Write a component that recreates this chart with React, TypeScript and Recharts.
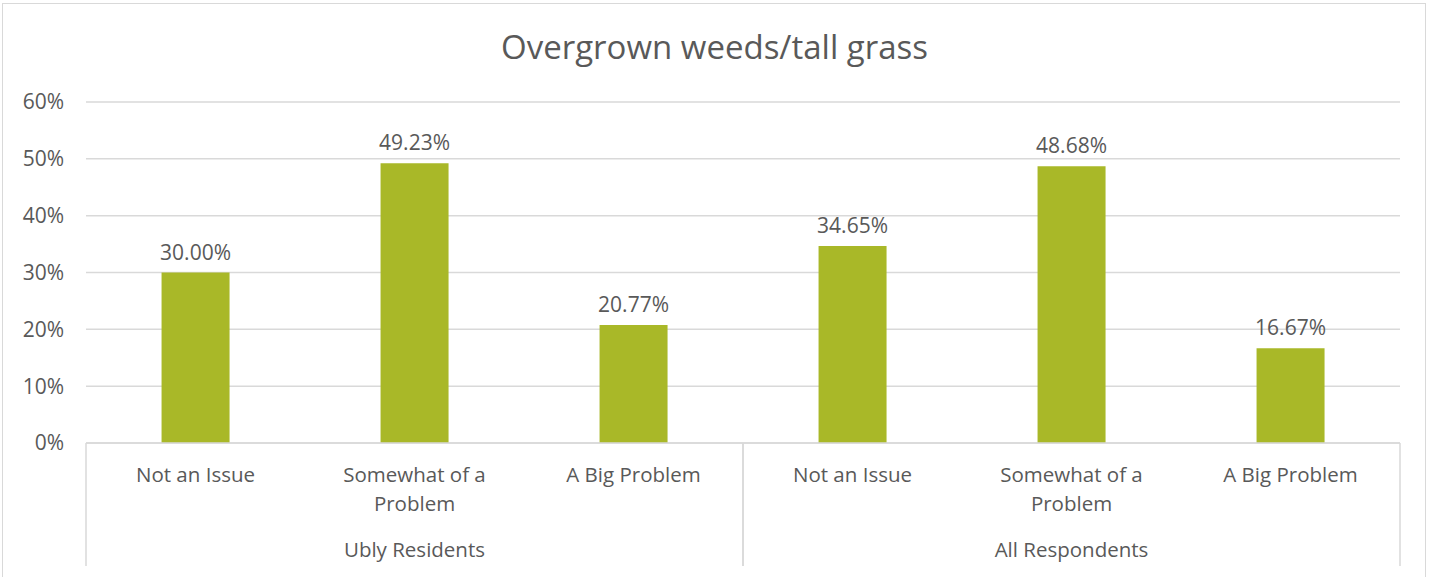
import React from 'react';
import { BarChart, Bar, XAxis, YAxis, CartesianGrid, LabelList } from 'recharts';

const categories = ['Not an Issue', 'Somewhat of a Problem', 'A Big Problem'];
const groups = ['Ubly Residents', 'All Respondents'];
const ublyValues = [30.0, 49.23, 20.77];
const allValues = [34.65, 48.68, 16.67];
const yTicks = [0, 10, 20, 30, 40, 50, 60];

const data = [
  ...categories.map((c, i) => ({ key: `u${i}`, label: c, group: groups[0], pos: i, value: ublyValues[i] })),
  ...categories.map((c, i) => ({ key: `a${i}`, label: c, group: groups[1], pos: i, value: allValues[i] })),
];

const TEXT = '#595959';
const GRID = '#d9d9d9';
const BAR = '#a9b828';
const FONT = '"Open Sans", sans-serif';

function wrap(s: string, max: number) {
  const words = s.split(' ');
  const lines: string[] = [];
  let cur = '';
  for (const w of words) {
    const next = cur ? cur + ' ' + w : w;
    if (next.length > max && cur) {
      lines.push(cur);
      cur = w;
    } else cur = next;
  }
  if (cur) lines.push(cur);
  return lines;
}

const CategoryTick = (props: any) => {
  const { x, y, payload, index } = props;
  const d = data[index];
  const half = payload.offset || 109.5;
  const lines = wrap(d.label, 14);
  const top = y - 8;
  return (
    <g>
      {lines.map((l, i) => (
        <text key={i} x={x} y={y + 31 + i * 29} textAnchor="middle" fill={TEXT} fontSize={20.5} fontFamily={FONT}>
          {l}
        </text>
      ))}
      {d.pos === 0 && <line x1={x - half} x2={x - half} y1={top} y2={top + 123} stroke={GRID} strokeWidth={1.5} />}
      {d.pos === categories.length - 1 && (
        <line x1={x + half} x2={x + half} y1={top} y2={top + 123} stroke={GRID} strokeWidth={1.5} />
      )}
      {d.pos === 1 && (
        <text x={x} y={y + 106} textAnchor="middle" fill={TEXT} fontSize={20.5} fontFamily={FONT}>
          {d.group}
        </text>
      )}
    </g>
  );
};

export default function App() {
  return (
    <div style={{ position: 'absolute', left: 0, top: 0, width: 1429, height: 577, background: '#fff', overflow: 'hidden' }}>
      <div
        style={{
          position: 'absolute',
          left: 2,
          top: 3,
          width: 1422,
          height: 600,
          border: `1.5px solid ${GRID}`,
        }}
      />
      <div
        style={{
          position: 'absolute',
          left: 0,
          top: 24,
          width: 1429,
          textAlign: 'center',
          fontFamily: FONT,
          fontSize: 33,
          color: TEXT,
        }}
      >
        Overgrown weeds/tall grass
      </div>
      <BarChart
        width={1429}
        height={577}
        data={data}
        margin={{ top: 102, right: 29, left: 0, bottom: 0 }}
        barCategoryGap="34.5%"
        style={{ position: 'absolute', left: 0, top: 0 }}
      >
        <CartesianGrid vertical={false} stroke={GRID} strokeWidth={1.5} />
        <XAxis
          dataKey="key"
          height={134}
          interval={0}
          axisLine={{ stroke: GRID, strokeWidth: 1.5 }}
          tickLine={false}
          tick={<CategoryTick />}
        />
        <YAxis
          width={86}
          domain={[0, 60]}
          ticks={yTicks}
          axisLine={false}
          tickLine={false}
          tickMargin={16}
          tickFormatter={(v: number) => `${v}%`}
          tick={{ fill: TEXT, fontSize: 21, fontFamily: FONT }}
        />
        <Bar dataKey="value" fill={BAR} isAnimationActive={false}>
          <LabelList
            dataKey="value"
            position="top"
            offset={13}
            formatter={(v: any) => `${Number(v).toFixed(2)}%`}
            fill={TEXT}
            fontSize={21}
            fontFamily={FONT}
          />
        </Bar>
      </BarChart>
    </div>
  );
}
